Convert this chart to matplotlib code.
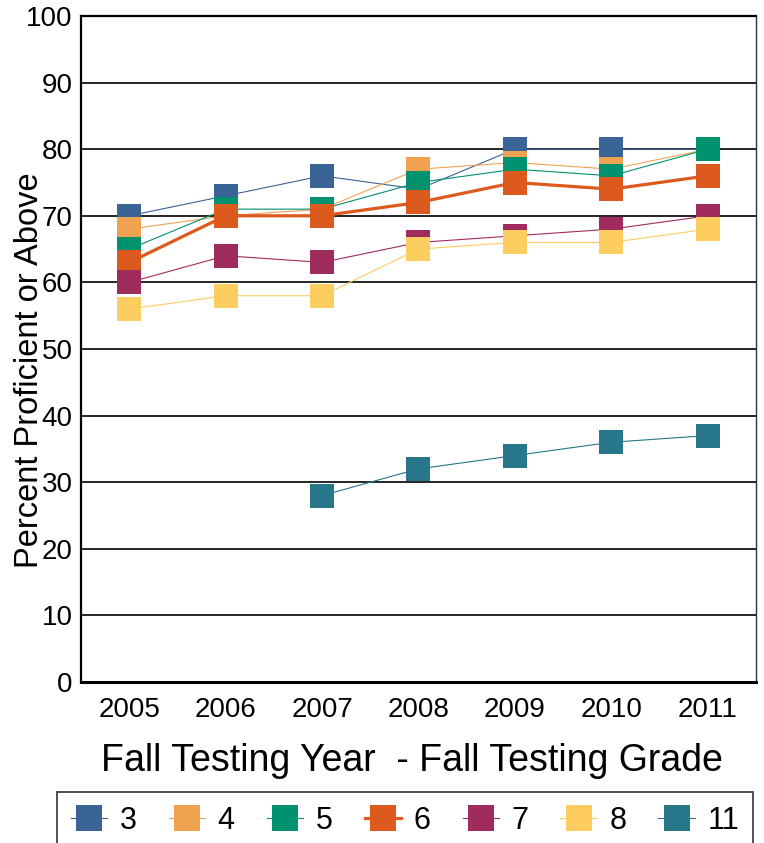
import matplotlib
matplotlib.use("Agg")
import matplotlib.pyplot as pyplot
import numpy

pyplot.rcParams['font.family'] = ['Liberation Sans', 'DejaVu Sans']

years = ["2005", "2006", "2007", "2008", "2009", "2010", "2011"]
grades = ["3", "4", "5", "6", "7", "8", "11"]

grade_3 = [70, 73, 76, 74, 80, 80, 80]
grade_4 = [68, 70, 71, 77, 78, 77, 80]
grade_5 = [65, 71, 71, 75, 77, 76, 80]
grade_6 = [63, 70, 70, 72, 75, 74, 76]
grade_7 = [60, 64, 63, 66, 67, 68, 70]
grade_8 = [56, 58, 58, 65, 66, 66, 68]
grade_11 = [numpy.nan, numpy.nan, 28, 32, 34, 36, 37]

series = [grade_3, grade_4, grade_5, grade_6, grade_7, grade_8, grade_11]
colors = ["#3A6496", "#EFA351", "#00916E", "#DD5A1F", "#A02C5E", "#FECD5F", "#27768A"]
widths = [0.8, 0.8, 0.8, 2.3, 0.8, 0.8, 0.8]

fig = pyplot.figure(figsize=(7.64, 8.43), dpi=100)
ax = fig.add_axes([81/764, 161/843, 675/764, 666/843])

x = numpy.arange(len(years))
for values, name, color, lw in zip(series, grades, colors, widths):
    ax.plot(x, values, color=color, linewidth=lw, marker='s', markersize=17.3,
            markeredgewidth=0, label=name)

ax.set_xlim(-0.5, len(years) - 0.5)
ax.set_ylim(0, 100)
ax.set_yticks(numpy.arange(0, 101, 10))
ax.set_xticks(x)
ax.set_xticklabels(years)
ax.tick_params(axis='both', length=0, labelsize=20)
ax.tick_params(axis='y', pad=6)
ax.tick_params(axis='x', pad=11)

# horizontal grid lines only
ax.grid(True, axis='y', color='black', linewidth=1.2)
ax.set_axisbelow(True)
ax.spines['left'].set_linewidth(1.6)
ax.spines['top'].set_linewidth(1.6)
ax.spines['bottom'].set_linewidth(2.2)
ax.spines['right'].set_linewidth(1.0)
ax.spines['right'].set_color('#333333')

ax.set_xlabel("Fall Testing Year  - Fall Testing Grade", fontsize=27, labelpad=14)
ax.xaxis.label.set_x(0.491)
ax.set_ylabel("Percent Proficient or Above", fontsize=23.5)
ax.yaxis.set_label_coords(-0.054, 0.468)

legend = fig.legend(loc='upper left', bbox_to_anchor=(57/764, 1 - 792/843), ncol=7,
                    fontsize=22, frameon=True, fancybox=False, edgecolor='black',
                    borderaxespad=0, handlelength=1.2, handletextpad=0.4,
                    columnspacing=1.05, markerscale=1.08, borderpad=0.45)
legend.get_frame().set_linewidth(1.2)

pyplot.savefig("out.png", dpi=100)
pyplot.close("all")
